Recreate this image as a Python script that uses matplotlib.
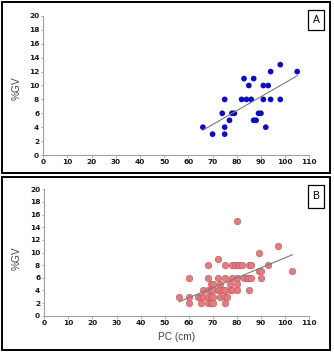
import matplotlib

matplotlib.use("Agg")
import matplotlib.pyplot as plt
import numpy as np
from matplotlib.patches import Rectangle

# -----------------------------
# Data: waist circumference (PC, cm) vs %GV
# -----------------------------
pc_a = [66, 70, 74, 75, 75, 75, 77, 78, 79, 82, 83, 84, 85, 86, 87, 87,
        88, 89, 90, 91, 91, 92, 93, 94, 94, 98, 98, 105]
gv_a = [4, 3, 6, 8, 4, 3, 5, 6, 6, 8, 11, 8, 10, 8, 11, 5,
        5, 6, 6, 10, 8, 4, 10, 12, 8, 13, 8, 12]

pc_b = [80,
        97,
        89,
        72,
        68, 75, 78, 79, 80, 81, 82, 85, 86, 93,
        89, 90, 103,
        60, 68, 72, 75, 78, 80, 83, 84, 85, 86, 90,
        69, 70, 73, 77, 80,
        66, 68, 69, 70, 72, 73, 74, 75, 77, 78, 80, 85,
        56, 60, 64, 65, 66, 68, 69, 70, 73, 75, 76,
        60, 65, 68, 69, 70, 75]
gv_b = [15,
        11,
        10,
        9,
        8, 8, 8, 8, 8, 8, 8, 8, 8, 8,
        7, 7, 7,
        6, 6, 6, 6, 6, 6, 6, 6, 6, 6, 6,
        5, 5, 5, 5, 5,
        4, 4, 4, 4, 4, 4, 4, 4, 4, 4, 4, 4,
        3, 3, 3, 3, 3, 3, 3, 3, 3, 3, 3,
        2, 2, 2, 2, 2, 2]

x_ticks = np.arange(0, 111, 10)
y_ticks = np.arange(0, 21, 2)

W, H = 334, 353


def px_box(x0, y0, x1, y1):
    # pixel box (top-left origin) -> figure fraction [left, bottom, width, height]
    return [x0 / W, 1 - y1 / H, (x1 - x0) / W, (y1 - y0) / H]


def style_axes(ax):
    ax.set_xlim(0, 110)
    ax.set_ylim(0, 20)
    ax.set_xticks(x_ticks)
    ax.set_yticks(y_ticks)
    for side in ["top", "right"]:
        ax.spines[side].set_visible(False)
    for side in ["left", "bottom"]:
        ax.spines[side].set_color("#a0a0a0")
        ax.spines[side].set_linewidth(0.8)
    ax.tick_params(direction="out", length=1.8, width=0.6, color="#a0a0a0",
                   labelsize=5.3, labelcolor="#1a1a1a", pad=1.2)
    for lab in ax.get_xticklabels() + ax.get_yticklabels():
        lab.set_fontweight("bold")
    ax.patch.set_alpha(0)


def fit_line(ax, x, y):
    x = np.asarray(x, float)
    y = np.asarray(y, float)
    slope, icpt = np.polyfit(x, y, 1)
    xs = np.array([x.min(), x.max()])
    ax.plot(xs, slope * xs + icpt, color="#7a7a7a", lw=0.8, zorder=3)


def panel_frame(fig, box, letter, lbox):
    fig.patches.append(Rectangle(box[:2], box[2], box[3], transform=fig.transFigure,
                                 fill=False, edgecolor="black", lw=1.4))
    fig.patches.append(Rectangle(lbox[:2], lbox[2], lbox[3], transform=fig.transFigure,
                                 fill=False, edgecolor="black", lw=0.9))
    fig.text(lbox[0] + lbox[2] / 2, lbox[1] + lbox[3] / 2, letter,
             ha="center", va="center", fontsize=7.5, family="Liberation Sans")


fig = plt.figure(figsize=(W / 100, H / 100), dpi=100)

# frames around each panel
panel_frame(fig, px_box(1.5, 1.5, 330, 173), "A", px_box(308, 10, 324, 30))
panel_frame(fig, px_box(1.5, 177, 330, 350), "B", px_box(308, 185, 324, 208))

# Panel A
ax_a = fig.add_axes(px_box(43.3, 16, 309.3, 155))
ax_a.scatter(pc_a, gv_a, s=17, color="#0a0ad2", edgecolors="none", zorder=2, clip_on=False)
fit_line(ax_a, pc_a, gv_a)
style_axes(ax_a)

# Panel B
ax_b = fig.add_axes(px_box(44.3, 189.3, 309.3, 315.7))
ax_b.scatter(pc_b, gv_b, s=22, color="#e8797e", edgecolors="#b85a5e", linewidths=0.4,
             zorder=2, clip_on=False)
fit_line(ax_b, pc_b, gv_b)
style_axes(ax_b)

fig.text(16.7 / W, 1 - 88 / H, "%GV", rotation=90, ha="center", va="center",
         fontsize=7.3, color="#444444", family="Liberation Sans")
fig.text(16.7 / W, 1 - 258 / H, "%GV", rotation=90, ha="center", va="center",
         fontsize=7.3, color="#444444", family="Liberation Sans")
fig.text(177 / W, 1 - 336.5 / H, "PC (cm)", ha="center", va="center",
         fontsize=7.3, color="#444444", family="Liberation Sans")

fig.savefig("out.png", dpi=100)
